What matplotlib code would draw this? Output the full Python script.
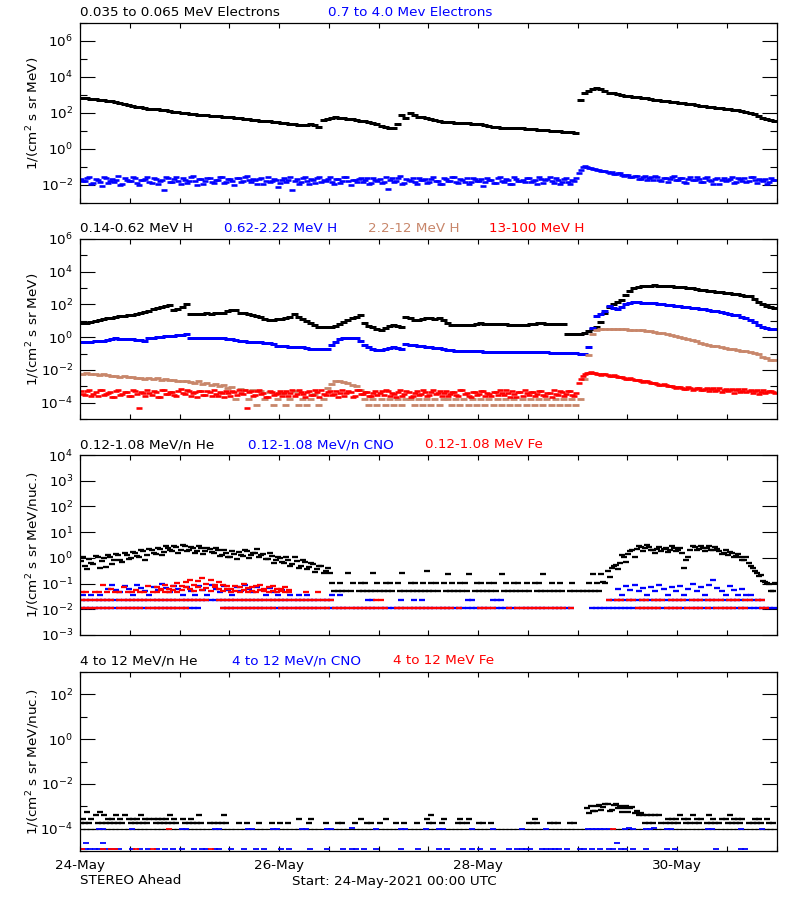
import numpy as np
import matplotlib
matplotlib.use("Agg")
import matplotlib.pyplot as plt
from matplotlib.ticker import FixedLocator, FixedFormatter, NullFormatter

_ = np.nan

# ---------------- time axis (hours since 24-May-2021 00:00 UTC) ----------------
hours = np.arange(168)
tick_hours = [0, 48, 96, 144]
tick_labels = ["24-May", "26-May", "28-May", "30-May"]
minor_tick_hours = [12, 24, 36, 60, 72, 84, 108, 120, 132, 156, 168]

# ---------------- panel 1 : electrons (log10 flux, hourly) ----------------
e_lo = [2.85, 2.83, 2.80, 2.77, 2.74, 2.71, 2.68, 2.64, 2.60, 2.55, 2.49, 2.43,
        2.39, 2.36, 2.32, 2.28, 2.24, 2.22, 2.20, 2.17, 2.14, 2.11, 2.07, 2.03,
        2.00, 1.99, 1.97, 1.94, 1.91, 1.89, 1.88, 1.86, 1.84, 1.82, 1.80, 1.78,
        1.76, 1.73, 1.70, 1.67, 1.64, 1.61, 1.59, 1.57, 1.55, 1.53, 1.50, 1.48,
        1.46, 1.44, 1.41, 1.38, 1.35, 1.33, 1.36, 1.39, 1.32, 1.24, 1.61, 1.68,
        1.73, 1.76, 1.75, 1.72, 1.69, 1.67, 1.63, 1.58, 1.54, 1.50, 1.46, 1.38,
        1.28, 1.20, 1.17, 1.15, 1.40, 1.89, 1.70, 1.98, 1.88, 1.80, 1.76, 1.71,
        1.66, 1.60, 1.55, 1.52, 1.50, 1.48, 1.46, 1.44, 1.43, 1.42, 1.41, 1.40,
        1.39, 1.35, 1.30, 1.25, 1.20, 1.18, 1.18, 1.17, 1.16, 1.16, 1.15, 1.13,
        1.11, 1.09, 1.07, 1.06, 1.04, 1.02, 1.00, 0.98, 0.96, 0.94, 0.92, 0.91,
        2.75, 3.10, 3.24, 3.33, 3.37, 3.33, 3.22, 3.13, 3.09, 3.04, 3.00, 2.97,
        2.94, 2.91, 2.88, 2.85, 2.82, 2.78, 2.75, 2.72, 2.69, 2.66, 2.63, 2.60,
        2.56, 2.54, 2.51, 2.48, 2.45, 2.41, 2.39, 2.36, 2.33, 2.29, 2.26, 2.24,
        2.21, 2.18, 2.15, 2.13, 2.08, 2.02, 1.96, 1.85, 1.72, 1.65, 1.60, 1.57]

e_hi_a = [-1.65, -1.80, -1.55, -1.90, -1.70, -2.05, -1.60, -1.75, -1.85, -1.50, -1.95, -1.70,
          -1.80, -1.60, -2.00, -1.72, -1.55, -1.88, -1.68, -1.78, -2.30, -1.62, -1.85, -1.58,
          -1.92, -1.70, -1.80, -1.52, -1.98, -1.66, -1.76, -1.60, -1.90, -1.74, -1.56, -1.84,
          -1.68, -2.02, -1.62, -1.78, -1.50, -1.86, -1.72, -1.64, -1.96, -1.58, -1.80, -1.70,
          -1.88, -1.60, -1.74, -2.25, -1.66, -1.82, -1.54, -1.92, -1.70, -1.62, -1.86, -1.76,
          -1.58, -1.94, -1.68, -1.80, -1.56, -2.00, -1.72, -1.64, -1.84, -1.60, -1.90, -1.74,
          -1.66, -1.82, -2.20, -1.62, -1.78, -1.52, -1.88, -1.70, -1.60, -1.94, -1.74, -1.66,
          -1.86, -1.58, -1.76, -1.96, -1.64, -1.80, -1.56, -1.90, -1.72, -1.62, -1.84, -1.68,
          -1.78, -2.05, -1.60, -1.74, -1.88, -1.58, -1.82, -1.70, -1.96, -1.64, -1.76, -1.86,
          -1.60, -1.80, -1.92, -1.66, -1.74, -1.58, -1.88, -1.70, -1.82, -1.62, -1.95, -1.76,
          -1.35, -1.02, -0.98, -1.08, -1.12, -1.18, -1.22, -1.30, -1.28, -1.40, -1.36, -1.50,
          -1.45, -1.58, -1.52, -1.66, -1.48, -1.62, -1.70, -1.55, -1.80, -1.60, -1.68, -1.52,
          -1.74, -1.62, -1.88, -1.56, -1.70, -1.64, -1.82, -1.58, -1.76, -1.66, -1.92, -1.60,
          -1.72, -1.54, -1.84, -1.68, -1.62, -1.78, -1.58, -1.90, -1.70, -1.64, -1.86, -1.74]

e_hi_b = [-1.75, -1.60, -1.92, -1.68, -1.82, -1.58, -1.88, -1.66, -1.72, -1.98, -1.62, -1.80,
          -1.56, -1.90, -1.74, -1.64, -1.84, -1.60, -1.96, -1.70, -1.58, -1.86, -1.66, -1.78,
          -1.62, -1.88, -1.56, -1.76, -1.68, -1.94, -1.60, -1.82, -1.70, -1.58, -1.90, -1.66,
          -1.80, -1.62, -1.86, -1.54, -1.74, -1.68, -1.92, -1.60, -1.78, -1.84, -1.64, -2.10,
          -1.70, -1.84, -1.58, -1.76, -1.92, -1.62, -1.80, -1.68, -1.88, -1.56, -1.74, -1.64,
          -1.82, -1.66, -1.90, -1.58, -1.76, -1.70, -1.86, -1.60, -1.74, -1.94, -1.62, -1.80,
          -1.90, -1.58, -1.70, -1.84, -1.62, -1.92, -1.66, -1.78, -1.86, -1.60, -1.72, -1.88,
          -1.64, -1.80, -1.94, -1.62, -1.76, -1.58, -1.86, -1.68, -1.82, -1.96, -1.60, -1.78,
          -1.64, -1.84, -1.72, -1.90, -1.60, -1.76, -1.68, -1.92, -1.58, -1.80, -1.70, -1.62,
          -1.84, -1.70, -1.58, -1.88, -1.64, -1.78, -1.62, -1.94, -1.68, -1.86, -1.72, -1.60,
          -1.15, -0.95, -1.04, -1.10, -1.16, -1.24, -1.20, -1.34, -1.38, -1.32, -1.46, -1.42,
          -1.56, -1.50, -1.64, -1.54, -1.70, -1.58, -1.52, -1.74, -1.62, -1.86, -1.56, -1.72,
          -1.60, -1.82, -1.66, -1.74, -1.58, -1.86, -1.62, -1.72, -1.94, -1.60, -1.70, -1.80,
          -1.64, -1.88, -1.60, -1.76, -1.82, -1.58, -1.72, -1.66, -1.80, -1.92, -1.62, -1.70]

# ---------------- panel 2 : protons (log10 flux, hourly) ----------------
h_lo = [0.85, 0.88, 0.93, 1.00, 1.06, 1.12, 1.17, 1.20, 1.24, 1.27, 1.30, 1.33,
        1.36, 1.39, 1.45, 1.54, 1.60, 1.70, 1.80, 1.85, 1.92, 1.98, 1.67, 1.75,
        1.87, 2.05, 1.40, 1.41, 1.42, 1.43, 1.45, 1.44, 1.47, 1.46, 1.50, 1.58,
        1.66, 1.67, 1.50, 1.45, 1.40, 1.36, 1.30, 1.22, 1.14, 1.07, 1.05, 1.09,
        1.13, 1.18, 1.22, 1.40, 1.25, 1.11, 1.00, 0.88, 0.72, 0.64, 0.63, 0.64,
        0.65, 0.70, 0.80, 0.92, 1.05, 1.18, 1.25, 1.33, 0.85, 0.70, 0.62, 0.50,
        0.43, 0.55, 0.68, 0.76, 0.70, 0.60, 1.22, 1.18, 1.08, 1.05, 1.12, 1.15,
        1.16, 1.14, 1.15, 1.02, 0.85, 0.76, 0.74, 0.73, 0.75, 0.74, 0.74, 0.78,
        0.85, 0.82, 0.80, 0.79, 0.80, 0.80, 0.78, 0.76, 0.75, 0.74, 0.74, 0.77,
        0.80, 0.83, 0.85, 0.84, 0.82, 0.80, 0.81, 0.80, 0.80, 0.17, 0.18, 0.17,
        0.20, 0.28, 0.35, 0.50, 0.65, 0.95, 1.50, 1.85, 2.05, 2.15, 2.28, 2.55,
        2.80, 3.00, 3.08, 3.12, 3.14, 3.15, 3.16, 3.14, 3.12, 3.10, 3.11, 3.08,
        3.07, 3.04, 3.01, 2.98, 2.94, 2.91, 2.88, 2.85, 2.81, 2.78, 2.75, 2.72,
        2.69, 2.66, 2.62, 2.58, 2.54, 2.49, 2.35, 2.15, 2.02, 1.92, 1.85, 1.81]

h_mid = [-0.29, -0.28, -0.27, -0.26, -0.25, -0.22, -0.15, -0.09, -0.08, -0.10, -0.12, -0.12,
         -0.12, -0.15, -0.20, -0.22, -0.06, -0.04, 0.00, 0.03, 0.06, 0.08, 0.10, 0.12,
         0.14, 0.17, -0.02, -0.03, -0.02, -0.02, -0.03, -0.04, -0.06, -0.08, -0.08, -0.10,
         -0.14, -0.20, -0.24, -0.25, -0.27, -0.28, -0.29, -0.30, -0.33, -0.35, -0.44, -0.52,
         -0.54, -0.56, -0.58, -0.59, -0.60, -0.60, -0.66, -0.70, -0.74, -0.73, -0.71, -0.70,
         -0.50, -0.29, -0.10, -0.04, -0.05, -0.07, -0.08, -0.25, -0.49, -0.62, -0.74, -0.79,
         -0.80, -0.72, -0.65, -0.60, -0.66, -0.70, -0.39, -0.45, -0.50, -0.54, -0.55, -0.58,
         -0.62, -0.64, -0.66, -0.72, -0.78, -0.80, -0.82, -0.84, -0.85, -0.86, -0.86, -0.87,
         -0.86, -0.88, -0.89, -0.90, -0.90, -0.90, -0.91, -0.90, -0.90, -0.90, -0.90, -0.91,
         -0.92, -0.91, -0.90, -0.92, -0.93, -0.94, -0.95, -0.96, -0.97, -0.97, -0.98, -0.99,
         -1.00, -1.01, -0.60, 0.54, 1.30, 1.40, 1.60, 1.90, 1.80, 1.70, 1.87, 2.00,
         2.10, 2.14, 2.13, 2.11, 2.09, 2.08, 2.06, 2.03, 2.00, 1.98, 1.95, 1.92,
         1.89, 1.86, 1.83, 1.79, 1.76, 1.72, 1.70, 1.66, 1.62, 1.57, 1.53, 1.48,
         1.43, 1.38, 1.33, 1.26, 1.16, 1.02, 0.90, 0.75, 0.64, 0.56, 0.52, 0.49]

h_brn = [-2.24, -2.20, -2.28, -2.26, -2.30, -2.25, -2.33, -2.38, -2.35, -2.42, -2.40, -2.46,
         -2.44, -2.50, -2.47, -2.53, -2.50, -2.56, -2.52, -2.60, -2.58, -2.64, -2.61, -2.66,
         -2.70, -2.65, -2.72, -2.78, -2.70, -2.85, -2.80, -2.92, -2.88, -3.00, -2.95, -3.10,
         -3.05, -3.79, -3.15, -3.20, -3.79, -3.25, -4.12, -3.30, -3.79, -3.35, -4.12, -3.79,
         -3.40, -4.12, -3.79, -3.27, -4.12, -3.79, -4.12, -3.79, -3.50, -4.12, -3.79, -3.10,
         -2.85, -2.70, -2.65, -2.75, -2.80, -2.95, -3.00, -3.20, -3.79, -4.12, -3.79, -4.12,
         -3.79, -4.12, -3.79, -4.12, -3.79, -4.12, -3.79, -3.79, -4.12, -3.79, -4.12, -3.79,
         -4.12, -3.79, -4.12, -3.79, -3.79, -4.12, -3.79, -4.12, -3.79, -4.12, -3.79, -4.12,
         -3.79, -4.12, -3.79, -4.12, -3.79, -4.12, -3.79, -4.12, -3.79, -4.12, -3.79, -4.12,
         -3.79, -4.12, -3.79, -4.12, -3.79, -4.12, -3.79, -4.12, -3.79, -4.12, -3.79, -4.12,
         -3.79, -2.55, -1.11, 0.17, 0.43, 0.47, 0.49, 0.49, 0.49, 0.48, 0.49, 0.47,
         0.46, 0.45, 0.44, 0.43, 0.40, 0.37, 0.33, 0.28, 0.23, 0.17, 0.11, 0.06,
         0.01, -0.04, -0.11, -0.18, -0.25, -0.33, -0.39, -0.45, -0.51, -0.56, -0.62, -0.66,
         -0.70, -0.74, -0.78, -0.83, -0.87, -0.92, -0.97, -1.01, -1.20, -1.30, -1.38, -1.42]

h_hi_a = [-3.30, -3.55, -3.20, -3.45, -3.62, -3.25, -3.50, -3.38, -3.68, -3.22, -3.48, -3.35,
          -3.58, -3.28, -4.30, -3.42, -3.20, -3.55, -3.32, -3.65, -3.24, -3.46, -3.36, -3.60,
          -3.18, -3.50, -3.30, -3.44, -3.66, -3.26, -3.52, -3.34, -3.20, -3.58, -3.40, -3.28,
          -3.62, -3.36, -3.22, -3.48, -4.30, -3.30, -3.56, -3.24, -3.44, -3.64, -3.32, -3.50,
          -3.26, -3.40, -3.60, -3.20, -3.46, -3.34, -3.68, -3.28, -3.52, -3.38, -3.22, -3.56,
          -3.30, -3.48, -3.64, -3.24, -3.42, -3.36, -3.58, -3.20, -3.50, -3.32, -3.62, -3.26,
          -3.44, -3.56, -3.28, -3.40, -3.66, -3.22, -3.50, -3.34, -3.60, -3.26, -3.46, -3.38,
          -3.54, -3.24, -3.42, -3.62, -3.30, -3.48, -3.36, -3.58, -3.20, -3.44, -3.66, -3.32,
          -3.50, -3.26, -3.40, -3.60, -3.34, -3.22, -3.56, -3.44, -3.30, -3.64, -3.38, -3.24,
          -3.52, -3.36, -3.46, -3.28, -3.62, -3.40, -3.24, -3.54, -3.34, -3.48, -3.30, -3.58,
          -2.80, -2.40, -2.20, -2.14, -2.18, -2.24, -2.28, -2.32, -2.36, -2.40, -2.46, -2.50,
          -2.53, -2.58, -2.62, -2.66, -2.70, -2.76, -2.80, -2.86, -2.92, -2.95, -3.00, -3.04,
          -3.06, -3.10, -3.14, -3.08, -3.18, -3.12, -3.22, -3.10, -3.16, -3.26, -3.12, -3.20,
          -3.30, -3.14, -3.22, -3.36, -3.18, -3.28, -3.40, -3.20, -3.32, -3.44, -3.26, -3.38]

h_hi_b = [-3.48, -3.26, -3.60, -3.34, -3.22, -3.54, -3.40, -3.66, -3.28, -3.52, -3.36, -3.62,
          -3.24, -3.46, -3.32, -3.58, -3.42, -3.30, -3.64, -3.20, -3.50, -3.38, -3.56, -3.28,
          -3.44, -3.22, -3.62, -3.36, -3.30, -3.52, -3.26, -3.60, -3.46, -3.32, -3.68, -3.42,
          -3.28, -3.54, -3.44, -3.20, -3.36, -3.60, -3.30, -3.48, -3.66, -3.26, -3.52, -3.40,
          -3.58, -3.30, -3.44, -3.62, -3.24, -3.50, -3.38, -3.56, -3.22, -3.64, -3.46, -3.32,
          -3.52, -3.26, -3.40, -3.58, -3.30, -3.66, -3.24, -3.46, -3.34, -3.60, -3.42, -3.54,
          -3.30, -3.22, -3.62, -3.48, -3.36, -3.58, -3.28, -3.64, -3.40, -3.52, -3.24, -3.60,
          -3.36, -3.50, -3.28, -3.44, -3.60, -3.32, -3.56, -3.24, -3.46, -3.62, -3.38, -3.52,
          -3.28, -3.62, -3.46, -3.34, -3.56, -3.42, -3.24, -3.66, -3.50, -3.36, -3.58, -3.44,
          -3.32, -3.60, -3.26, -3.54, -3.40, -3.66, -3.50, -3.30, -3.62, -3.26, -3.56, -3.42,
          -2.55, -2.25, -2.16, -2.20, -2.22, -2.30, -2.26, -2.38, -2.34, -2.44, -2.42, -2.54,
          -2.50, -2.62, -2.60, -2.72, -2.68, -2.82, -2.78, -2.90, -2.88, -3.00, -2.96, -3.08,
          -3.02, -3.14, -3.06, -3.20, -3.10, -3.24, -3.16, -3.28, -3.12, -3.22, -3.34, -3.14,
          -3.24, -3.40, -3.18, -3.26, -3.34, -3.22, -3.30, -3.46, -3.24, -3.36, -3.30, -3.42]

# ---------------- panel 3 : 0.12-1.08 MeV/n heavy ions (log10 flux, hourly) ----------------
he_lo_a = [-0.14, -0.30, -0.05, -0.22, 0.02, -0.12, -0.35, 0.05, -0.08, 0.10, -0.15, 0.12,
           0.00, 0.20, 0.05, 0.25, 0.10, 0.30, 0.15, 0.35, 0.22, 0.40, 0.28, 0.42,
           0.30, 0.45, 0.32, 0.38, 0.25, 0.40, 0.28, 0.35, 0.18, 0.30, 0.10, 0.20,
           0.05, 0.15, 0.22, 0.08, 0.25, 0.12, 0.20, 0.02, 0.15, -0.05, 0.08, -0.10,
           0.00, -0.20, -0.08, -0.25, -0.12, -0.30, -0.18, -0.35, -0.25, -0.42, -0.32, -0.50,
           -0.60, -1.30, -1.30, -1.30, -1.30, -1.30, _, -1.30, -1.30, -1.30, -1.30, -1.30,
           -1.30, -1.30, -1.30, -1.30, _, -1.30, -1.30, -1.30, -1.30, -1.30, -1.30, -1.30,
           -1.30, -1.30, -1.30, _, -1.30, -1.30, -1.30, -1.30, -1.30, -1.30, _, -1.30,
           -1.30, -1.30, -1.30, -1.30, -1.30, _, -1.30, -1.30, -1.30, -1.30, -1.30, -1.30,
           -1.30, _, -1.30, -1.30, -1.30, -1.30, -1.30, -1.30, -1.30, _, -1.30, -1.30,
           -1.30, -1.30, -1.30, -1.30, -1.30, -1.30, -0.95, -0.50, -0.40, -0.27, -0.20, 0.05,
           0.15, 0.31, 0.35, 0.44, 0.38, 0.42, 0.30, 0.36, 0.28, 0.40, 0.32, 0.38,
           0.30, 0.20, -0.10, 0.30, 0.44, 0.36, 0.40, 0.38, 0.32, 0.42, 0.25, 0.18,
           0.12, 0.20, 0.08, 0.05, -0.08, -0.20, -0.40, -0.60, -0.66, -0.92, -1.00, -1.28]

he_lo_b = [0.05, -0.45, -0.20, 0.08, -0.40, -0.02, 0.12, -0.25, 0.15, -0.10, 0.18, -0.05,
           0.22, 0.08, 0.32, -0.10, 0.35, 0.18, 0.40, 0.12, 0.45, 0.30, 0.48, 0.20,
           0.50, 0.25, 0.42, 0.20, 0.46, 0.15, 0.38, 0.22, 0.40, 0.08, 0.32, 0.05,
           0.25, -0.05, 0.10, 0.30, 0.00, 0.18, 0.35, 0.10, -0.05, 0.20, -0.20, 0.05,
           -0.15, 0.05, -0.30, 0.02, -0.40, -0.10, -0.45, -0.20, -0.55, -0.30, -0.60, -0.40,
           -0.98, _, -0.98, _, -0.60, -0.98, _, -0.98, -0.98, _, -0.60, -0.98,
           _, -0.98, -0.98, _, -0.98, -0.60, _, -0.98, -0.98, _, -0.98, -0.51,
           -0.98, -0.98, _, -0.98, -0.63, -0.98, _, -0.98, -0.98, -0.63, _, -0.98,
           -0.98, _, -0.98, -0.98, _, -0.63, -0.98, _, -0.98, -0.98, _, -0.98,
           _, -0.98, -0.98, -0.63, _, -0.98, _, -0.98, _, _, -0.98, _,
           _, _, -0.98, -0.63, -0.98, -0.63, -0.98, -0.75, -0.30, -0.45, 0.10, -0.15,
           0.28, 0.05, 0.45, 0.25, 0.50, 0.30, 0.18, 0.42, 0.35, 0.22, 0.45, 0.26,
           0.40, -0.40, 0.05, 0.45, 0.30, 0.48, 0.28, 0.45, 0.30, 0.36, 0.15, 0.30,
           0.22, 0.02, 0.15, -0.10, 0.02, -0.30, -0.50, -0.70, -0.90, -0.98, -1.28, -0.98]

cno_lo_a = [-1.96, -1.96, -1.96, -1.96, -1.96, -1.96, -1.96, -1.96, -1.96, -1.96, -1.96, -1.96,
            -1.96, -1.96, -1.96, -1.96, -1.96, -1.96, -1.96, -1.96, -1.96, -1.96, -1.96, -1.96,
            -1.96, -1.96, -1.96, -1.96, -1.96, _, _, _, _, _, -1.96, -1.96,
            -1.96, -1.96, -1.96, -1.96, -1.96, -1.96, -1.96, -1.96, -1.96, -1.96, -1.96, -1.96,
            -1.96, -1.96, -1.96, -1.96, -1.96, -1.96, -1.96, -1.96, -1.96, -1.96, -1.96, -1.96,
            -1.96, -1.96, -1.96, -1.96, -1.96, -1.96, -1.96, -1.96, -1.96, -1.96, -1.96, -1.96,
            -1.96, -1.96, -1.96, -1.96, -1.96, -1.96, -1.96, -1.96, -1.96, -1.96, -1.96, -1.96,
            -1.96, -1.96, -1.96, -1.96, -1.96, -1.96, -1.96, -1.96, -1.96, -1.96, -1.96, -1.96,
            -1.96, -1.96, -1.96, -1.96, -1.96, -1.96, -1.96, -1.96, -1.96, -1.96, -1.96, -1.96,
            -1.96, -1.96, -1.96, -1.96, -1.96, -1.96, -1.96, -1.96, -1.96, -1.96, -1.96, _,
            _, _, _, -1.96, -1.96, -1.96, -1.96, -1.96, -1.96, -1.96, -1.96, -1.96,
            -1.96, -1.96, -1.96, -1.96, -1.96, -1.96, -1.96, -1.96, -1.96, -1.96, -1.96, -1.96,
            -1.96, -1.96, -1.96, -1.96, -1.96, -1.96, -1.96, -1.96, -1.96, -1.96, -1.96, -1.96,
            -1.96, -1.96, -1.96, -1.96, -1.96, -1.96, -1.96, -1.96, -1.96, -1.96, -1.96, -1.96]

cno_lo_b = [-1.63, -1.63, -1.63, -1.63, -1.63, -1.63, -1.63, -1.63, -1.63, -1.63, -1.63, -1.63,
            -1.63, -1.63, -1.63, -1.63, -1.63, -1.63, -1.63, -1.63, -1.63, -1.63, -1.63, -1.63,
            -1.63, -1.63, -1.63, -1.63, -1.63, -1.63, -1.63, -1.63, -1.63, -1.63, -1.63, -1.63,
            -1.63, -1.63, -1.63, -1.63, -1.63, -1.63, -1.63, -1.63, -1.63, -1.63, -1.63, -1.63,
            -1.63, -1.63, -1.63, -1.63, -1.63, -1.63, -1.63, -1.63, -1.63, -1.63, -1.63, -1.63,
            -1.63, _, _, _, _, _, _, _, _, -1.63, -1.63, _,
            _, _, _, _, _, -1.63, _, _, -1.63, _, -1.63, _,
            _, _, _, _, _, _, _, _, _, -1.63, -1.63, _,
            _, _, _, -1.63, -1.63, -1.63, _, _, _, _, _, _,
            _, _, _, _, _, _, _, _, _, _, _, _,
            _, _, _, _, _, _, _, -1.63, -1.63, -1.63, -1.63, -1.63,
            -1.63, -1.63, -1.63, -1.63, -1.63, -1.63, -1.63, -1.63, -1.63, -1.63, -1.63, -1.63,
            -1.63, -1.63, -1.63, -1.63, -1.63, -1.63, -1.63, -1.63, -1.63, -1.63, -1.63, -1.63,
            -1.63, -1.63, -1.63, -1.63, -1.63, -1.63, -1.63, -1.63, -1.63, _, _, _]

cno_lo_c = [-1.44, _, -1.44, _, -1.44, _, -1.20, -1.05, -1.25, -1.31, -1.10, -1.22,
            -1.44, -1.05, -1.18, -1.28, -1.44, -1.12, -1.25, -1.00, -1.18, -1.31, -1.08, -1.22,
            -1.44, -1.15, -1.28, -1.44, -1.10, -1.25, -1.44, -1.05, -1.20, -1.31, -1.10, -1.25,
            -1.44, -1.15, -1.28, -1.05, -1.22, -1.31, -1.12, -1.25, -1.44, -1.18, -1.31, -1.44,
            -1.25, _, -1.44, _, -1.44, _, -1.44, _, _, _, _, _,
            -1.44, _, -1.44, _, _, _, _, _, _, _, _, _,
            _, _, _, _, _, _, _, _, _, _, _, _,
            _, _, _, _, _, _, _, _, _, _, _, _,
            _, _, _, _, _, _, _, _, _, _, _, _,
            _, _, _, _, _, _, _, _, _, _, _, _,
            _, _, _, _, _, _, _, _, _, -1.20, -1.44, -1.10,
            -1.25, -1.05, -1.30, -1.18, -1.44, -1.12, -1.28, -1.05, -1.22, -1.44, -1.15, -1.30,
            -1.10, -1.44, -1.20, -1.00, -1.28, -1.12, -1.44, -1.05, -0.86, -1.18, -1.30, -1.44,
            -1.10, -1.25, -1.44, -1.20, -1.44, -1.44, _, _, _, _, _, _]

fe_lo_a = [-1.96, -1.96, -1.96, -1.96, -1.96, -1.96, -1.96, -1.96, _, -1.96, -1.96, -1.96,
           -1.96, -1.96, -1.96, _, -1.96, -1.96, -1.96, -1.96, -1.96, -1.96, -1.96, -1.96,
           -1.96, -1.96, _, _, _, _, _, _, _, _, -1.96, -1.96,
           -1.96, -1.96, -1.96, -1.96, -1.96, -1.96, -1.96, -1.96, -1.96, -1.96, -1.96, _,
           -1.96, -1.96, -1.96, -1.96, -1.96, -1.96, -1.96, -1.96, -1.96, -1.96, -1.96, -1.96,
           _, -1.96, -1.96, -1.96, -1.96, -1.96, -1.96, -1.96, -1.96, -1.96, -1.96, -1.96,
           -1.96, -1.96, _, _, -1.96, -1.96, -1.96, -1.96, -1.96, -1.96, -1.96, -1.96,
           -1.96, -1.96, -1.96, -1.96, -1.96, -1.96, _, -1.96, _, _, _, _,
           -1.96, -1.96, -1.96, -1.96, _, _, _, -1.96, _, -1.96, -1.96, -1.96,
           -1.96, -1.96, -1.96, -1.96, -1.96, -1.96, -1.96, -1.96, -1.96, _, -1.96, _,
           _, _, _, _, _, _, _, _, _, _, _, _,
           _, _, -1.96, -1.96, -1.96, -1.96, -1.96, -1.96, _, -1.96, -1.96, -1.96,
           -1.96, _, -1.96, -1.96, -1.96, -1.96, _, -1.96, _, -1.96, -1.96, -1.96,
           -1.96, -1.96, _, -1.96, -1.96, _, _, _, -1.96, -1.96, _, _]

fe_lo_b = [-1.63, -1.63, -1.63, -1.63, -1.63, -1.63, -1.63, -1.63, _, -1.63, -1.63, -1.63,
           -1.63, -1.63, -1.63, -1.63, -1.63, -1.63, -1.63, -1.63, -1.63, -1.63, -1.63, -1.63,
           -1.63, -1.63, -1.63, -1.63, -1.63, -1.63, -1.63, _, _, -1.63, -1.63, -1.63,
           -1.63, -1.63, -1.63, -1.63, -1.63, -1.63, -1.63, -1.63, -1.63, -1.63, -1.63, -1.63,
           -1.63, -1.63, -1.63, -1.63, -1.63, -1.63, -1.63, -1.63, -1.63, -1.63, -1.63, -1.63,
           -1.63, _, _, _, _, _, _, _, _, _, _, -1.63,
           -1.63, _, _, _, _, _, _, _, _, _, _, _,
           _, _, _, _, _, _, _, _, _, _, _, _,
           _, _, _, _, _, _, _, _, _, _, _, _,
           _, _, _, _, _, _, _, _, _, _, _, _,
           _, _, _, _, _, _, _, -1.63, _, -1.63, -1.63, _,
           -1.63, -1.63, _, -1.63, -1.63, _, -1.63, -1.63, -1.63, _, -1.63, -1.63,
           -1.63, -1.63, _, -1.63, -1.63, -1.63, _, -1.63, -1.63, -1.63, -1.63, _,
           -1.63, -1.63, -1.63, _, -1.63, -1.63, _, -1.63, -1.63, _, _, _]

fe_lo_c = [-1.31, -1.31, _, -1.31, -1.31, -1.05, -1.31, -1.20, -1.31, -1.31, -1.15, -1.31,
           -1.31, -1.25, -1.31, -1.31, -1.10, -1.31, -1.31, -1.20, -1.31, -1.31, -1.25, -1.31,
           -1.10, -0.95, -0.85, -1.05, -0.90, -0.80, -1.00, -0.88, -1.15, -0.95, -1.05, -1.20,
           -1.31, -1.10, -1.31, -1.00, -1.31, -1.15, -1.31, -1.05, -1.20, -1.31, -1.10, -1.31,
           -1.20, -1.31, -1.31, _, _, _, -1.31, _, _, -1.31, _, _]   # hours 0-59

fe_lo_extra = [(18, -1.15), (19, -1.25), (20, -1.05), (21, -1.20), (22, -1.10), (23, -0.98),
               (24, -1.25), (25, -1.15), (26, -1.20), (27, -1.30), (28, -1.15), (29, -1.25),
               (30, -1.18), (31, -1.28), (32, -1.05), (33, -1.22), (34, -1.30), (35, -1.10),
               (36, -1.20), (37, -1.28), (38, -1.12), (39, -1.25), (40, -1.18), (41, -1.28),
               (42, -1.10), (43, -1.25), (44, -1.30), (45, -1.15), (46, -1.28), (47, -1.20),
               (48, -1.30), (49, -1.15), (50, -1.25)]

# ---------------- panel 4 : 4-12 MeV/n heavy ions (log10 flux) ----------------
he_hi_a = [-4.0, -4.0, -4.0, -4.0, -4.0, -4.0, -4.0, -4.0, -4.0, -4.0, -4.0, -4.0,
           -4.0, -4.0, -4.0, -4.0, -4.0, -4.0, -4.0, -4.0, -4.0, -4.0, -4.0, -4.0,
           -4.0, -4.0, -4.0, -4.0, -4.0, -4.0, -4.0, -4.0, -4.0, -4.0, -4.0, -4.0,
           -4.0, -4.0, -4.0, -4.0, -4.0, -4.0, -4.0, -4.0, -4.0, -4.0, -4.0, -4.0,
           -4.0, -4.0, -4.0, -4.0, -4.0, -4.0, -4.0, -4.0, -4.0, -4.0, -4.0, -4.0,
           -4.0, -4.0, -4.0, -4.0, -4.0, -4.0, -4.0, -4.0, -4.0, -4.0, -4.0, -4.0,
           -4.0, -4.0, -4.0, -4.0, -4.0, -4.0, -4.0, -4.0, -4.0, -4.0, -4.0, -4.0,
           -4.0, -4.0, -4.0, -4.0, -4.0, -4.0, -4.0, -4.0, -4.0, -4.0, -4.0, -4.0,
           -4.0, -4.0, -4.0, -4.0, -4.0, -4.0, -4.0, -4.0, -4.0, -4.0, -4.0, -4.0,
           -4.0, -4.0, -4.0, -4.0, -4.0, -4.0, -4.0, -4.0, -4.0, -4.0, -4.0, -4.0,
           -4.0, -4.0, -4.0, -4.0, -4.0, -4.0, -4.0, -4.0, -4.0, -4.0, -4.0, -4.0,
           -4.0, -4.0, -4.0, -4.0, -4.0, -4.0, -4.0, -4.0, -4.0, -4.0, -4.0, -4.0,
           -4.0, -4.0, -4.0, -4.0, -4.0, -4.0, -4.0, -4.0, -4.0, -4.0, -4.0, -4.0,
           -4.0, -4.0, -4.0, -4.0, -4.0, -4.0, -4.0, -4.0, -4.0, -4.0, -4.0, -4.0]

he_hi_b = [-3.73, -3.73, -3.73, _, -3.73, -3.73, -3.73, -3.73, -3.73, -3.73, -3.73, _,
           -3.73, -3.73, -3.73, -3.73, -3.73, _, -3.73, -3.73, -3.73, -3.73, -3.73, -3.73,
           _, -3.73, -3.73, -3.73, -3.73, -3.73, _, -3.73, -3.73, -3.73, -3.73, -3.73,
           _, _, -3.73, _, -3.73, _, _, -3.73, _, _, -3.73, _,
           -3.73, _, -3.73, _, _, _, _, -3.73, _, _, _, -3.73,
           _, _, -3.73, -3.73, _, _, -3.73, _, _, -3.73, -3.73, _,
           -3.73, _, _, _, -3.73, _, -3.73, _, _, -3.73, _, _,
           -3.73, -3.73, _, -3.73, _, _, _, -3.73, -3.73, -3.73, _, _,
           -3.73, -3.73, _, -3.73, _, _, _, _, _, _, _, _,
           -3.73, -3.73, -3.73, _, _, -3.73, -3.73, -3.73, _, _, -3.73, -3.73,
           _, _, -3.10, -3.00, -3.20, -2.95, -3.05, -2.90, -3.15, -2.92, -3.00, -3.10,
           -3.25, -3.05, -3.20, -3.30, -3.73, -3.73, -3.73, _, -3.73, -3.73, -3.73, -3.73,
           -3.73, _, -3.73, -3.73, -3.73, -3.73, _, -3.73, -3.73, -3.73, -3.73, _,
           -3.73, -3.73, -3.73, -3.73, _, -3.73, -3.73, -3.73, -3.73, _, -3.73, -3.73]

he_hi_c = [-3.56, -3.26, -3.56, -3.41, -3.26, -3.41, -3.56, -3.56, -3.41, -3.56, -3.41, -3.56,
           -3.56, -3.56, -3.41, -3.56, -3.56, -3.56, -3.56, -3.56, -3.56, -3.41, -3.56, _,
           -3.56, _, -3.56, _, -3.41, _, _, _, _, _, -3.41, _,
           _, _, _, _, _, _, _, _, _, _, _, _,
           _, _, _, _, -3.56, _, _, -3.56, _, _, _, _,
           _, _, _, _, _, _, _, -3.56, _, _, _, _,
           _, -3.56, _, _, _, _, _, _, _, _, _, -3.56,
           -3.41, _, _, -3.56, _, _, _, -3.56, _, -3.56, _, _,
           _, _, _, _, _, _, _, _, _, _, _, _,
           _, -3.56, _, _, _, _, _, _, _, _, _, _,
           _, _, -3.30, -3.20, -3.00, -3.15, -2.88, -3.20, -2.95, -3.10, -3.25, -2.98,
           -3.10, -3.30, -3.41, -3.41, -3.41, -3.41, -3.41, -3.41, _, -3.56, -3.56, -3.56,
           -3.41, -3.56, -3.56, -3.41, -3.56, -3.56, _, -3.41, -3.56, _, -3.56, -3.56,
           -3.41, -3.56, -3.56, -3.56, _, _, -3.56, -3.56, _, -3.56, _, _]

cno_hi_pts = [(4, -4.0), (5, -4.0), (12, -4.0), (24, -4.0), (25, -4.0), (32, -4.0), (33, -4.0),
              (40, -4.0), (41, -4.0), (46, -4.0), (47, -4.0), (53, -4.0), (54, -4.0), (59, -4.0),
              (60, -4.0), (71, -4.0), (77, -4.0), (78, -4.0), (83, -4.0), (86, -4.0), (87, -4.0),
              (94, -4.0), (99, -4.0), (106, -4.0), (112, -4.0), (122, -4.0), (123, -4.0),
              (124, -4.0), (125, -4.0), (126, -4.0), (127, -4.0), (131, -4.0), (133, -4.0),
              (136, -4.0), (137, -4.0), (141, -4.0), (142, -4.0), (151, -4.0), (152, -4.0),
              (159, -4.0), (164, -4.0), (65, -3.95), (132, -3.95), (138, -3.95),
              (1, -4.63), (5, -4.63), (129, -4.63),
              (0, -4.92), (1, -4.92), (2, -4.92), (3, -4.92), (4, -4.92), (5, -4.92), (6, -4.92),
              (7, -4.92), (8, -4.92), (9, -4.92), (12, -4.92), (14, -4.92), (16, -4.92),
              (18, -4.92), (20, -4.92), (22, -4.92), (24, -4.92), (27, -4.92), (29, -4.92),
              (30, -4.92), (32, -4.92), (33, -4.92), (36, -4.92), (39, -4.92), (42, -4.92),
              (44, -4.92), (48, -4.92), (50, -4.92), (55, -4.92), (59, -4.92), (63, -4.92),
              (65, -4.92), (66, -4.92), (68, -4.92), (71, -4.92), (77, -4.92), (81, -4.92),
              (86, -4.92), (88, -4.92), (92, -4.92), (94, -4.92), (96, -4.92), (99, -4.92),
              (103, -4.92), (105, -4.92), (106, -4.92), (107, -4.92), (108, -4.92), (111, -4.92),
              (112, -4.92), (113, -4.92), (114, -4.92), (115, -4.92), (117, -4.92), (120, -4.92),
              (121, -4.92), (123, -4.92), (125, -4.92), (127, -4.92), (128, -4.92), (130, -4.92),
              (131, -4.92), (133, -4.92), (136, -4.92), (141, -4.92), (143, -4.92), (153, -4.92),
              (159, -4.92), (160, -4.92)]

fe_hi_pts = [(21, -4.0), (128, -4.0), (0, -4.92), (5, -4.92), (7, -4.92), (8, -4.92),
             (13, -4.92), (17, -4.92), (31, -4.92)]

# ---------------- text ----------------
titles = [
    [("0.035 to 0.065 MeV Electrons", 80, "black"), ("0.7 to 4.0 Mev Electrons", 328, "blue")],
    [("0.14-0.62 MeV H", 80, "black"), ("0.62-2.22 MeV H", 224, "blue"),
     ("2.2-12 MeV H", 368, "brown"), ("13-100 MeV H", 489, "red")],
    [("0.12-1.08 MeV/n He", 80, "black"), ("0.12-1.08 MeV/n CNO", 248, "blue"),
     ("0.12-1.08 MeV Fe", 425, "red")],
    [("4 to 12 MeV/n He", 80, "black"), ("4 to 12 MeV/n CNO", 232, "blue"),
     ("4 to 12 MeV Fe", 393, "red")],
]
ylabels = [r"1/(cm$^2$ s sr MeV)", r"1/(cm$^2$ s sr MeV)",
           r"1/(cm$^2$ s sr MeV/nuc.)", r"1/(cm$^2$ s sr MeV/nuc.)"]

COLORS = {"black": "#000000", "blue": "#0000FF", "brown": "#C8866A", "red": "#FF0000"}

# ---------------- figure ----------------
plt.rcParams["font.family"] = ["DejaVu Sans"]
plt.rcParams["mathtext.fontset"] = "dejavusans"
W, H = 800, 900
fig = plt.figure(figsize=(8, 9), dpi=100)
fig.patch.set_facecolor("white")

panel_px = [(23, 203), (239, 419), (455, 635), (672, 851)]
ylims = [(1e-3, 1e7), (1e-5, 1e6), (1e-3, 1e4), (1e-5, 1e3)]
ymajor = [[-2, 0, 2, 4, 6], [-4, -2, 0, 2, 4, 6], [-3, -2, -1, 0, 1, 2, 3, 4], [-4, -2, 0, 2]]
yminor = [[-3, -1, 1, 3, 5, 7], [-5, -3, -1, 1, 3, 5], [], [-5, -3, -1, 1, 3]]
title_y = [13, 229, 445, 661]
FS = 9.7

axes = []
for i, (top, bot) in enumerate(panel_px):
    ax = fig.add_axes([80 / W, 1 - bot / H, 696.5 / W, (bot - top) / H])
    ax.set_yscale("log")
    ax.set_xlim(0, 168)
    ax.set_ylim(*ylims[i])
    ax.yaxis.set_major_locator(FixedLocator([10.0 ** e for e in ymajor[i]]))
    ax.yaxis.set_major_formatter(FixedFormatter([r"$10^{%d}$" % e for e in ymajor[i]]))
    ax.yaxis.set_minor_locator(FixedLocator([10.0 ** e for e in yminor[i]]))
    ax.yaxis.set_minor_formatter(NullFormatter())
    ax.xaxis.set_major_locator(FixedLocator(tick_hours))
    ax.xaxis.set_minor_locator(FixedLocator(minor_tick_hours))
    if i == 3:
        ax.xaxis.set_major_formatter(FixedFormatter(tick_labels))
    else:
        ax.xaxis.set_major_formatter(NullFormatter())
    ax.xaxis.set_minor_formatter(NullFormatter())
    ax.tick_params(axis="y", which="major", direction="in", length=10.8, width=0.8,
                   left=True, right=True, labelsize=FS, pad=5)
    ax.tick_params(axis="y", which="minor", direction="in", length=5.0, width=0.8,
                   left=True, right=True)
    ax.tick_params(axis="x", which="both", direction="in", length=3.6, width=0.8,
                   top=True, bottom=True, labelsize=FS, pad=6)
    for s in ax.spines.values():
        s.set_linewidth(0.9)
    for (txt, xp, c) in titles[i]:
        fig.text(xp / W, 1 - title_y[i] / H, txt, color=COLORS[c], fontsize=FS,
                 ha="left", va="center")
    fig.text(33 / W, 1 - (top + bot) / 2 / H, ylabels[i], rotation=90, fontsize=FS,
             ha="center", va="center")
    axes.append(ax)


def dots(ax, t, logv, color, w=6.0, h=2.3, z=2):
    v = np.power(10.0, np.asarray(logv, dtype=float))
    ax.plot(t, v, ls="none", marker="_", ms=w * 0.72, mew=h * 0.72,
            color=COLORS[color], zorder=z)


def pts(ax, plist, color, w=6.0, h=2.3, z=2):
    t = [p[0] + 0.5 for p in plist]
    v = [p[1] for p in plist]
    dots(ax, t, v, color, w, h, z)


ta = hours + 0.25
tb = hours + 0.75
tc = hours + 0.5

ax1, ax2, ax3, ax4 = axes
# panel 1
dots(ax1, tc, e_lo, "black", w=7.0, h=3.0)
dots(ax1, ta, e_hi_a, "blue", w=6.0, h=2.6)
dots(ax1, tb, e_hi_b, "blue", w=6.0, h=2.6)
# panel 2
dots(ax2, tc, h_lo, "black", w=7.0, h=3.0)
dots(ax2, tc, h_mid, "blue", w=7.0, h=3.0)
dots(ax2, tc, h_brn, "brown", w=7.0, h=2.8)
dots(ax2, ta, h_hi_a, "red", w=6.0, h=2.6)
dots(ax2, tb, h_hi_b, "red", w=6.0, h=2.6)
# panel 3
dots(ax3, ta, he_lo_a, "black")
dots(ax3, tb, he_lo_b, "black")
dots(ax3, tc, cno_lo_a, "blue", w=6.5)
dots(ax3, tc, cno_lo_b, "blue", w=6.5)
dots(ax3, tb, cno_lo_c, "blue")
dots(ax3, tc, fe_lo_a, "red", w=6.5)
dots(ax3, tc, fe_lo_b, "red", w=6.5)
dots(ax3, tc[:60], fe_lo_c, "red")
pts(ax3, fe_lo_extra, "red")
# panel 4
dots(ax4, tc, he_hi_a, "black", w=6.5, h=1.2)
dots(ax4, ta, he_hi_b, "black")
dots(ax4, tb, he_hi_c, "black")
pts(ax4, cno_hi_pts, "blue", h=1.8)
pts(ax4, fe_hi_pts, "red", h=1.8)

fig.text(80 / W, 1 - 881 / H, "STEREO Ahead", fontsize=FS, ha="left", va="center")
fig.text(292 / W, 1 - 881 / H, "Start: 24-May-2021 00:00 UTC", fontsize=FS,
         ha="left", va="center")

fig.savefig("out.png", dpi=100, facecolor="white")
